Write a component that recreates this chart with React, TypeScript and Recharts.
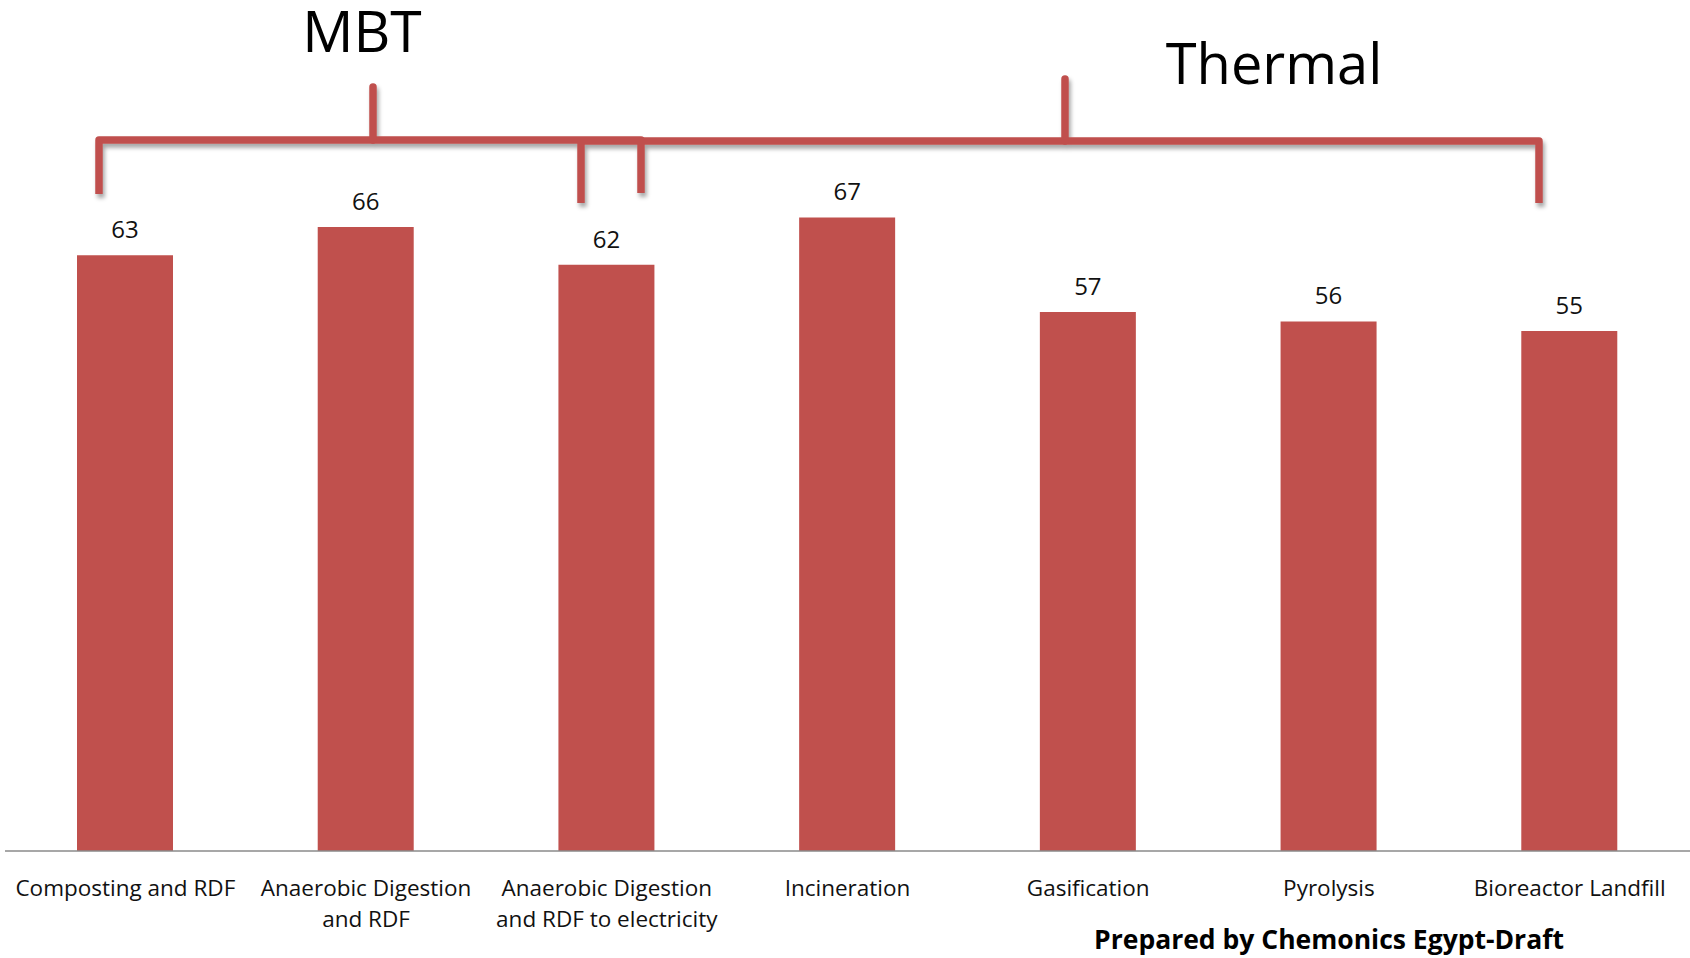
import React from "react";
import { Bar, BarChart, XAxis, YAxis, LabelList, Customized } from "recharts";

const categories = [
  "Composting and RDF",
  "Anaerobic Digestion\nand RDF",
  "Anaerobic Digestion\nand RDF to electricity",
  "Incineration",
  "Gasification",
  "Pyrolysis",
  "Bioreactor Landfill",
];
const scores = [63, 66, 62, 67, 57, 56, 55];
const groupTitles = ["MBT", "Thermal"];
const footnote = "Prepared by Chemonics Egypt-Draft";

const data = categories.map((name, i) => ({ name, score: scores[i] }));

const RED = "#C0504D";
const FONT = "'Open Sans', 'Noto Sans', sans-serif";

function CategoryTick(props: any) {
  const { x, y, payload } = props;
  const lines = String(payload.value).split("\n");
  return (
    <text x={x} y={y + 37} textAnchor="middle" fontFamily={FONT} fontSize={22.5} fill="#111">
      {lines.map((line, i) => (
        <tspan key={i} x={x} dy={i === 0 ? 0 : 31}>
          {line}
        </tspan>
      ))}
    </text>
  );
}

// group brackets and headings above the bars
function Brackets() {
  return (
    <g>
      <defs>
        <filter id="bracketShadow" x="-5%" y="-20%" width="110%" height="160%">
          <feDropShadow dx="2" dy="4" stdDeviation="2" floodColor="#000" floodOpacity="0.35" />
        </filter>
      </defs>
      <g filter="url(#bracketShadow)" stroke={RED} strokeWidth={7.5} fill="none">
        <path d="M581,203 V141 H1539 V203" strokeLinejoin="round" />
        <path d="M1065,79 V141" strokeLinecap="round" />
        <path d="M99,194 V140 H641 V193" strokeLinejoin="round" />
        <path d="M373,87 V140" strokeLinecap="round" />
      </g>
      <text x={362} y={52} textAnchor="middle" fontFamily={FONT} fontSize={57} fill="#000">
        {groupTitles[0]}
      </text>
      <text x={1274} y={84} textAnchor="middle" fontFamily={FONT} fontSize={56} fill="#000">
        {groupTitles[1]}
      </text>
      <text x={1329} y={949} textAnchor="middle" fontFamily={FONT} fontWeight="bold" fontSize={26.5} fill="#000">
        {footnote}
      </text>
    </g>
  );
}

export default function App() {
  return (
    <div style={{ position: "absolute", left: 0, top: 0, width: 1690, height: 958, background: "#fff" }}>
      <BarChart
        width={1690}
        height={958}
        data={data}
        margin={{ top: 0, right: 0, left: 5, bottom: 0 }}
        barCategoryGap={0}
      >
        <XAxis
          dataKey="name"
          height={107}
          interval={0}
          tickLine={false}
          axisLine={{ stroke: "#8a8a8a", strokeWidth: 1.5 }}
          tick={<CategoryTick />}
        />
        <YAxis hide domain={[0, 90]} />
        <Bar dataKey="score" fill={RED} barSize={96} isAnimationActive={false}>
          <LabelList
            dataKey="score"
            position="top"
            offset={17}
            style={{ fill: "#111", fontSize: 24, fontFamily: FONT }}
          />
        </Bar>
        <Customized component={Brackets} />
      </BarChart>
    </div>
  );
}
